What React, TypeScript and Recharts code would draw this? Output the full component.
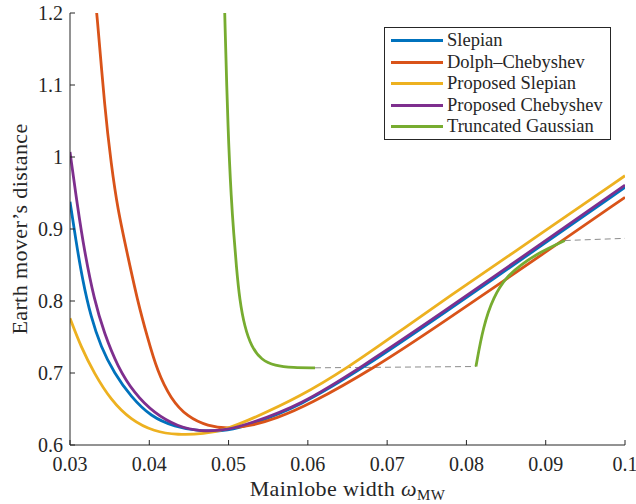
import React from 'react';
import { LineChart, Line, XAxis, YAxis } from 'recharts';

// window widths on x, earth mover's distance on y
const xTicks = [0.03, 0.04, 0.05, 0.06, 0.07, 0.08, 0.09, 0.1];
const yTicks = [0.6, 0.7, 0.8, 0.9, 1, 1.1, 1.2];

const slepian: [number, number][] = [
  [0.03, 0.938], [0.03073, 0.885], [0.03158, 0.829], [0.03263, 0.778], [0.03389, 0.7365],
  [0.03558, 0.6996], [0.03768, 0.6671], [0.0402, 0.6393], [0.04316, 0.6255], [0.04652, 0.6185],
  [0.05, 0.62], [0.0527, 0.628], [0.059, 0.654], [0.067, 0.707], [0.0766, 0.779],
  [0.09, 0.881], [0.1, 0.958],
];
const dolph: [number, number][] = [
  [0.0329, 1.25], [0.0334, 1.2], [0.0344, 1.065], [0.0352, 0.99], [0.036, 0.928],
  [0.0373, 0.862], [0.0385, 0.801], [0.0398, 0.748], [0.041, 0.703], [0.0427, 0.664],
  [0.0448, 0.639], [0.0474, 0.626], [0.05, 0.6225], [0.053, 0.627], [0.056, 0.637],
  [0.06, 0.655], [0.0684, 0.707], [0.0766, 0.767], [0.09, 0.868], [0.1, 0.944],
];
const propSlepian: [number, number][] = [
  [0.03, 0.776], [0.03137, 0.7365], [0.03305, 0.6996], [0.03515, 0.6625], [0.03768, 0.6347],
  [0.04063, 0.6185], [0.04357, 0.6139], [0.04694, 0.6153], [0.0495, 0.621], [0.0527, 0.635],
  [0.059, 0.667], [0.065, 0.707], [0.0716, 0.758], [0.0766, 0.797], [0.09, 0.898],
  [0.1, 0.974],
];
const propCheb: [number, number][] = [
  [0.03, 1.007], [0.03095, 0.931], [0.03179, 0.871], [0.03305, 0.8014], [0.03432, 0.7551],
  [0.036, 0.7088], [0.0381, 0.6718], [0.04063, 0.644], [0.04357, 0.6255], [0.04652, 0.6185],
  [0.05, 0.621], [0.0527, 0.63], [0.059, 0.655], [0.0666, 0.707], [0.0766, 0.781],
  [0.09, 0.884], [0.1, 0.961],
];
const gaussA: [number, number][] = [
  [0.0494, 1.25], [0.04951, 1.2], [0.04993, 1.033], [0.05035, 0.94], [0.05065, 0.894],
  [0.05098, 0.848], [0.0514, 0.801], [0.05203, 0.764], [0.05288, 0.7365], [0.05414, 0.718],
  [0.05582, 0.7101], [0.05813, 0.7074], [0.0609, 0.7072],
];
const gaussB: [number, number][] = [
  [0.0812, 0.709], [0.0821, 0.764], [0.0834, 0.806], [0.0851, 0.834], [0.0868, 0.85],
  [0.0893, 0.868], [0.0924, 0.884],
];
const gapA: [number, number][] = [[0.0609, 0.7072], [0.0812, 0.709]];
const gapB: [number, number][] = [[0.0924, 0.884], [0.1, 0.887]];

const pts = (arr: [number, number][]) => arr.map(([x, y]) => ({ x, y }));

const legendItems = [
  { label: 'Slepian', color: '#0072BD' },
  { label: 'Dolph\u2013Chebyshev', color: '#D95319' },
  { label: 'Proposed Slepian', color: '#EDB120' },
  { label: 'Proposed Chebyshev', color: '#7E2F8E' },
  { label: 'Truncated Gaussian', color: '#77AC30' },
];

const FONT = "'Liberation Serif', 'Tinos', 'Times New Roman', 'DejaVu Serif', 'Noto Serif', serif";
const AXIS = '#262626';
const tickStyle = { fontSize: 20, fill: AXIS, fontFamily: FONT };

export default function App() {
  const curve = (data: [number, number][], color: string, key: string) => (
    <Line
      key={key}
      data={pts(data)}
      dataKey="y"
      type="basis"
      stroke={color}
      strokeWidth={2.8}
      dot={false}
      activeDot={false}
      isAnimationActive={false}
    />
  );
  const gap = (data: [number, number][], key: string) => (
    <Line
      key={key}
      data={pts(data)}
      dataKey="y"
      type="linear"
      stroke="#8c8c8c"
      strokeWidth={1}
      strokeDasharray="6 4"
      dot={false}
      activeDot={false}
      isAnimationActive={false}
    />
  );

  return (
    <div style={{ position: 'relative', width: 636, height: 504, background: '#fff' }}>
      <style>{'body{margin:0}'}</style>
      <LineChart width={636} height={504} margin={{ top: 13, right: 11, bottom: 0, left: 0 }}>
        <XAxis
          dataKey="x"
          type="number"
          domain={[0.03, 0.1]}
          ticks={xTicks}
          interval={0}
          allowDataOverflow
          height={59}
          tickSize={-5}
          tickMargin={17}
          tick={tickStyle}
          tickFormatter={(v) => String(v)}
          stroke={AXIS}
          label={(p: any) => {
            const vb = p.viewBox;
            return (
              <text
                x={vb.x + vb.width / 2}
                y={vb.y + 51}
                textAnchor="middle"
                fontFamily={FONT}
                fontSize={22}
                letterSpacing={0.4}
                fill={AXIS}
              >
                Mainlobe width <tspan fontStyle="italic">ω</tspan>
                <tspan fontSize={15} dy={4}>MW</tspan>
              </text>
            );
          }}
        />
        <XAxis
          xAxisId="top"
          orientation="top"
          type="number"
          domain={[0.03, 0.1]}
          ticks={xTicks}
          interval={0}
          allowDataOverflow
          height={0}
          tickSize={-5}
          tick={false}
          stroke={AXIS}
        />
        <YAxis
          type="number"
          domain={[0.6, 1.2]}
          ticks={yTicks}
          interval={0}
          allowDataOverflow
          width={70}
          tickSize={-5}
          tickMargin={12}
          tick={tickStyle}
          tickFormatter={(v) => String(v)}
          stroke={AXIS}
          label={(p: any) => {
            const vb = p.viewBox;
            const cx = 27;
            const cy = vb.y + vb.height / 2;
            return (
              <text
                x={cx}
                y={cy}
                transform={`rotate(-90, ${cx}, ${cy})`}
                textAnchor="middle"
                fontFamily={FONT}
                fontSize={22}
                letterSpacing={0.4}
                fill={AXIS}
              >
                Earth mover’s distance
              </text>
            );
          }}
        />
        <YAxis
          yAxisId="right"
          orientation="right"
          type="number"
          domain={[0.6, 1.2]}
          ticks={yTicks}
          interval={0}
          allowDataOverflow
          width={0}
          tickSize={-5}
          tick={false}
          stroke={AXIS}
        />
        {gap(gapA, 'gapA')}
        {gap(gapB, 'gapB')}
        {curve(slepian, '#0072BD', 'slepian')}
        {curve(dolph, '#D95319', 'dolph')}
        {curve(propSlepian, '#EDB120', 'propSlepian')}
        {curve(propCheb, '#7E2F8E', 'propCheb')}
        {curve(gaussA, '#77AC30', 'gaussA')}
        {curve(gaussB, '#77AC30', 'gaussB')}
      </LineChart>

      {/* legend box, top right inside the axes */}
      <div
        style={{
          position: 'absolute',
          left: 384,
          top: 27,
          width: 227,
          height: 113,
          boxSizing: 'border-box',
          border: `1px solid ${AXIS}`,
          background: '#fff',
          paddingTop: 2,
          paddingLeft: 6,
        }}
      >
        {legendItems.map((it) => (
          <div key={it.label} style={{ display: 'flex', alignItems: 'center', height: 21.5 }}>
            <div style={{ width: 52, height: 3, background: it.color }} />
            <span style={{ marginLeft: 4, fontFamily: FONT, fontSize: 18.5, color: AXIS, whiteSpace: 'nowrap', lineHeight: '21.5px' }}>
              {it.label}
            </span>
          </div>
        ))}
      </div>
    </div>
  );
}
